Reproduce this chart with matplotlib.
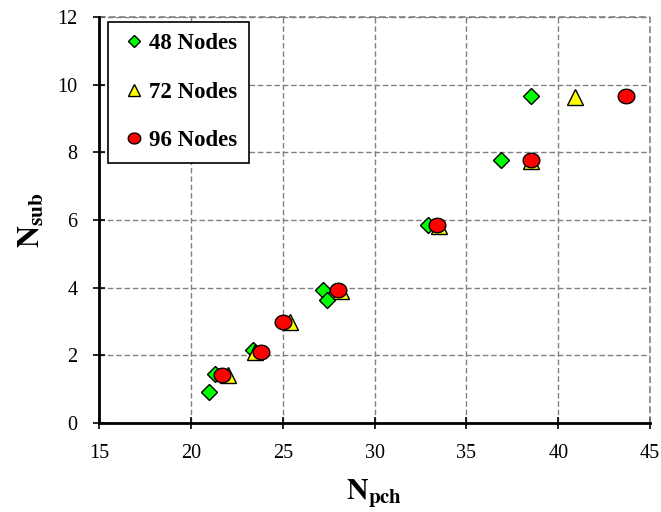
import numpy as np
import matplotlib
matplotlib.use('Agg')
import matplotlib.pyplot as plt
from matplotlib.path import Path


# data
x48 = [21.0, 21.3, 23.4, 27.2, 27.4, 32.9, 36.9, 38.5]
y48 = [0.92, 1.44, 2.15, 3.93, 3.65, 5.85, 7.78, 9.67]
x72 = [22.0, 23.5, 25.4, 28.2, 33.5, 38.5, 40.9]
y72 = [1.42, 2.10, 3.00, 3.90, 5.82, 7.75, 9.65]
x96 = [21.7, 23.8, 25.0, 28.0, 33.4, 38.5, 43.7]
y96 = [1.42, 2.10, 3.00, 3.93, 5.85, 7.78, 9.67]
labels = ['48 Nodes', '72 Nodes', '96 Nodes']
xticks = [15, 20, 25, 30, 35, 40, 45]
yticks = [0, 2, 4, 6, 8, 10, 12]

plt.rcParams['font.family'] = 'Liberation Serif'
plt.rcParams['mathtext.fontset'] = 'stix'

# slightly flattened circle, the original picture is stretched sideways
theta = np.linspace(0, 2*np.pi, 60)
ellipse = Path(np.column_stack([1.15*np.cos(theta), np.sin(theta)]),
               closed=True)

fig = plt.figure(figsize=(6.61, 5.12), dpi=100)
ax = fig.add_axes([0.1498, 0.1738, 0.8336, 0.793])

ax.plot(x48, y48, 'D', ms=8.5, mfc='#00ff00', mec='black', mew=1.0,
        label=labels[0], zorder=3)
ax.plot(x72, y72, '^', ms=11, mfc='#ffff00', mec='black', mew=1.0,
        label=labels[1], zorder=3)
ax.plot(x96, y96, marker=ellipse, ls='none', ms=12, mfc='#ff0000',
        mec='black', mew=1.0, label=labels[2], zorder=4)

ax.set_xlim(15, 45)
ax.set_ylim(0, 12)
ax.set_xticks(xticks)
ax.set_yticks(yticks)
ax.grid(True, ls=(0, (4, 2)), color='#808080', lw=1.0)
ax.set_axisbelow(True)

for side in ['top', 'right']:
    ax.spines[side].set_visible(False)
# dashed frame on top and right like the original
ax.axhline(12, ls=(0, (4, 2)), color='#808080', lw=1.2, clip_on=False,
           zorder=1)
ax.axvline(45, ls=(0, (4, 2)), color='#808080', lw=1.2, clip_on=False,
           zorder=1)
for side in ['left', 'bottom']:
    ax.spines[side].set_linewidth(2.0)
ax.tick_params(direction='inout', length=8, width=1.2, labelsize=14.5)
ax.tick_params(axis='x', pad=11)
ax.tick_params(axis='y', pad=11.5)

ax.set_xlabel(r'$\mathbf{N_{pch}}$', fontsize=21.5, labelpad=10)
ax.set_ylabel(r'$\mathbf{N_{sub}}$', fontsize=22, labelpad=8)

leg = ax.legend(loc='upper left', bbox_to_anchor=(0.016, 0.988),
                borderaxespad=0, fancybox=False, edgecolor='black',
                framealpha=1, handlelength=1.3, handletextpad=0.0,
                labelspacing=1.2, borderpad=0.5, markerscale=0.75,
                prop={'family': 'Liberation Serif', 'weight': 'bold',
                      'size': 16.5})
leg.get_frame().set_linewidth(1.2)

fig.savefig('out.png', dpi=100)
